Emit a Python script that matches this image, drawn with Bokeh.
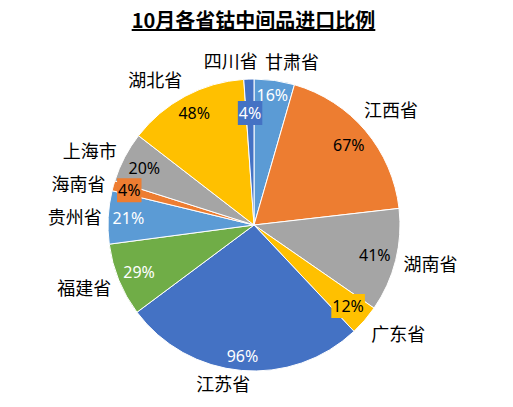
import math
from bokeh.plotting import figure
from bokeh.models import ColumnDataSource, Range1d, Div
from bokeh.layouts import column
from bokeh.core.properties import value
from bokeh.embed import file_html
from bokeh.resources import INLINE

# données (sens horaire depuis midi)
provinces = ["甘肃省", "江西省", "湖南省", "广东省", "江苏省", "福建省",
             "贵州省", "海南省", "上海市", "湖北省", "四川省"]
ratios = [16, 67, 41, 12, 96, 29, 21, 4, 20, 48, 4]

palette = ["#5B9BD5", "#ED7D31", "#A5A5A5", "#FFC000", "#4472C4", "#70AD47"]
label_ink = ["white", "black", "black", "black", "white", "white"]

# petits ajustements des étiquettes (degrés / rayon)
cat_nudge = {"四川省": -6, "甘肃省": 5, "江苏省": 6, "湖北省": -6,
             "广东省": -4, "湖南省": -2, "福建省": 2, "上海市": -3, "海南省": -2}
cat_radius = {"江苏省": 161}
pct_radius = {"四川省": 112}

W, H = 497, 361
cx, cy, R = 253.5, 176.5, 146

total = float(sum(ratios))
starts, ends, colors, inks = [], [], [], []
pct_x, pct_y, pct_txt, pct_bg = [], [], [], []
cat_x, cat_y = [], []
cum = 0
for i, (name, v) in enumerate(zip(provinces, ratios)):
    a0 = cum / total * 2 * math.pi
    a1 = (cum + v) / total * 2 * math.pi
    cum += v
    starts.append(math.pi / 2 - a0)
    ends.append(math.pi / 2 - a1)
    colors.append(palette[i % 6])
    inks.append(label_ink[i % 6])
    mid = (a0 + a1) / 2
    txt = "%d%%" % v
    w = 10.5 * len(txt)
    s, c = abs(math.sin(mid)), abs(math.cos(mid))
    r = pct_radius.get(name, R - 4 - w / 2 * s - 9 * c)
    pct_x.append(cx + r * math.sin(mid))
    pct_y.append(cy + r * math.cos(mid))
    pct_txt.append(txt)
    pct_bg.append(palette[i % 6] if v < 15 else None)
    m2 = mid + math.radians(cat_nudge.get(name, 0))
    s2, c2 = abs(math.sin(m2)), abs(math.cos(m2))
    rc = cat_radius.get(name, R + 7 + 26 * s2 + 10 * c2)
    cat_x.append(cx + rc * math.sin(m2))
    cat_y.append(cy + rc * math.cos(m2))

src = ColumnDataSource(dict(start=starts, end=ends, color=colors))
src_pct = ColumnDataSource(dict(x=pct_x, y=pct_y, t=pct_txt, ink=inks, bg=pct_bg))
src_cat = ColumnDataSource(dict(x=cat_x, y=cat_y, t=provinces))

p = figure(width=W, height=H, x_range=Range1d(0, W), y_range=Range1d(0, H),
           output_backend="svg", toolbar_location=None, min_border=0)
p.axis.visible = False
p.grid.visible = False
p.outline_line_color = None

p.wedge(x=cx, y=cy, radius=R, start_angle="start", end_angle="end",
        direction="clock", fill_color="color", line_color="white",
        line_width=1, source=src)

p.text(x="x", y="y", text="t", source=src_pct, text_color="ink",
       text_font=value("Noto Sans"), text_font_size="16px",
       text_align="center", text_baseline="middle",
       background_fill_color="bg", padding=1)

p.text(x="x", y="y", text="t", source=src_cat, text_color="black",
       text_font=value("Noto Sans CJK SC"), text_font_size="18px",
       text_align="center", text_baseline="middle")

title = Div(text="<u>10月各省钴中间品进口比例</u>", width=W, height=30,
            styles={"font-family": "Noto Sans CJK SC", "font-weight": "bold",
                    "font-size": "20px", "text-decoration": "underline",
                    "text-align": "center", "width": "%dpx" % W,
                    "line-height": "30px", "color": "black"})

layout = column(title, p, spacing=0)
open("out.html", "w").write(file_html(layout, INLINE))
